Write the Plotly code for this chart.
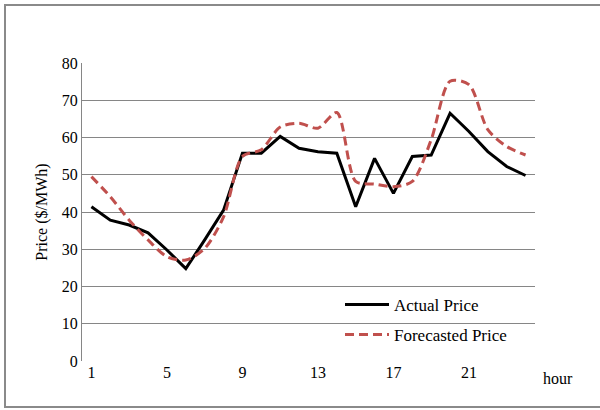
import plotly.graph_objects as go

hours = list(range(1, 25))
actual_price = [41.4, 37.8, 36.5, 34.4, 29.8, 24.8, 32.5, 40.5, 55.8, 55.8, 60.3, 57.1,
                56.2, 55.8, 41.4, 54.4, 45.0, 54.9, 55.3, 66.5, 61.6, 56.2, 52.2, 49.8]
forecast_price = [49.5, 44.1, 37.8, 32.5, 28.0, 27.1, 30.2, 38.7, 54.9, 56.7, 62.8, 63.8,
                  62.5, 66.7, 48.2, 47.5, 46.8, 48.2, 59.4, 75.1, 74.2, 62.1, 57.6, 55.3]
x_ticks = [1, 5, 9, 13, 17, 21]
y_ticks = [0, 10, 20, 30, 40, 50, 60, 70, 80]

FONT = "Liberation Serif, Times New Roman, serif"
W, H = 600, 410
L, R, T, B = 82, 65, 63, 49
PW, PH = W - L - R, H - T - B

def px(x):
    return (x - L) / PW

def py(y):
    return (H - B - y) / PH

fig = go.Figure()
fig.add_trace(go.Scatter(x=hours, y=actual_price, mode="lines", name="Actual Price",
                         line=dict(color="#000000", width=3), legend="legend"))
fig.add_trace(go.Scatter(x=hours, y=forecast_price, mode="lines", name="Forecasted Price",
                         line=dict(color="#C0504D", width=3, dash="9px,5px", shape="spline",
                                   smoothing=0.8), legend="legend2"))

legend_common = dict(font=dict(family=FONT, size=17, color="#000000"),
                     bgcolor="rgba(0,0,0,0)", xanchor="left", yanchor="middle",
                     itemwidth=44)
fig.update_layout(
    width=W, height=H,
    margin=dict(l=L, r=R, t=T, b=B),
    paper_bgcolor="white", plot_bgcolor="white",
    font=dict(family=FONT, size=16, color="#000000"),
    showlegend=True,
    legend=dict(x=px(340), y=py(305), **legend_common),
    legend2=dict(x=px(340), y=py(335), **legend_common),
    xaxis=dict(range=[0.5, 24.5], tickvals=x_ticks, ticktext=[str(v) for v in x_ticks],
               showgrid=False, zeroline=False, showline=False, ticks="",
               tickfont=dict(family=FONT, size=16)),
    yaxis=dict(range=[0, 80], tickvals=y_ticks, showgrid=True, gridcolor="#868686",
               gridwidth=1, zeroline=False, showline=True, linecolor="#868686",
               linewidth=1, ticks="", tickfont=dict(family=FONT, size=16),
               title=dict(text="Price ($/MWh)", font=dict(family=FONT, size=16), standoff=10)),
    shapes=[dict(type="rect", xref="paper", yref="paper",
                 x0=px(5), x1=px(610), y0=py(407), y1=py(5),
                 line=dict(color="#8a8a8a", width=2), fillcolor="rgba(0,0,0,0)", layer="below")],
    annotations=[dict(text="hour", xref="paper", yref="paper", x=px(558), y=py(378),
                      showarrow=False, font=dict(family=FONT, size=16), xanchor="center",
                      yanchor="middle")],
)
fig.write_html("out.html", config={"displayModeBar": False},
               post_script="document.body.style.margin='0px';")
